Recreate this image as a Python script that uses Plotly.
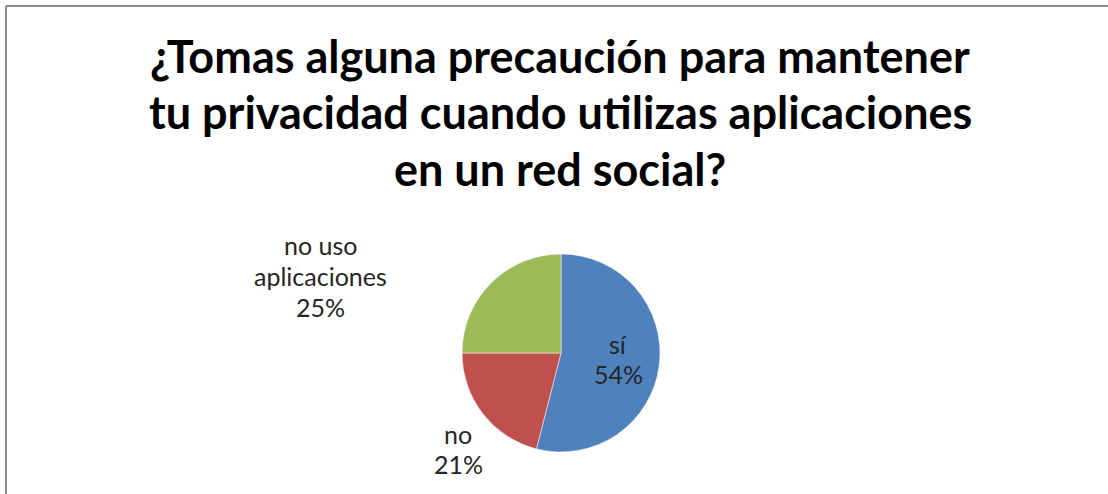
import plotly.graph_objects as go

categories = ["sí", "no", "no uso aplicaciones"]
values = [54, 21, 25]
colors = ["#4F81BD", "#C0504D", "#9BBB59"]
title_lines = [
    "¿Tomas alguna precaución para mantener",
    "tu privacidad cuando utilizas aplicaciones",
    "en un red social?",
]
label_lines = [
    ["sí", "54%"],
    ["no", "21%"],
    ["no uso", "aplicaciones", "25%"],
]

W, H = 1108, 494

def px(x):
    return x / W

def py(y):
    return 1 - y / H

fig = go.Figure()
fig.add_trace(go.Pie(
    labels=categories,
    values=values,
    sort=False,
    direction="clockwise",
    rotation=0,
    marker=dict(colors=colors, line=dict(color="#ffffff", width=0.5)),
    textinfo="none",
    hoverinfo="label+percent",
    showlegend=False,
    domain=dict(x=[px(462), px(660)], y=[py(452), py(254)]),
))

annotations = []
title_y = [56, 112, 169]
for line, yy in zip(title_lines, title_y):
    annotations.append(dict(
        text="<b>" + line + "</b>", x=px(560), y=py(yy), xref="paper", yref="paper",
        showarrow=False, xanchor="center", yanchor="middle",
        font=dict(family="Lato", size=45, color="#000000"),
    ))

label_pos = [
    (618, [344, 374]),
    (458, [434, 464]),
    (320, [245, 276, 307]),
]
for lines, (lx, ys) in zip(label_lines, label_pos):
    for t, yy in zip(lines, ys):
        annotations.append(dict(
            text=t, x=px(lx), y=py(yy), xref="paper", yref="paper",
            showarrow=False, xanchor="center", yanchor="middle",
            font=dict(family="Lato", size=25, color="#262626"),
        ))

border = "#8c8c8c"
fig.update_layout(
    width=W, height=H,
    margin=dict(l=0, r=0, t=0, b=0),
    paper_bgcolor="#ffffff",
    plot_bgcolor="#ffffff",
    annotations=annotations,
    shapes=[
        dict(type="line", xref="paper", yref="paper",
             x0=px(6), y0=py(6), x1=1, y1=py(6),
             line=dict(color=border, width=2), layer="above"),
        dict(type="line", xref="paper", yref="paper",
             x0=px(6), y0=py(6), x1=px(6), y1=0,
             line=dict(color=border, width=2), layer="above"),
    ],
)

fig.write_html(
    "out.html",
    config={"displayModeBar": False},
    post_script=(
        "document.documentElement.style.margin='0';"
        "document.documentElement.style.overflow='hidden';"
        "document.body.style.margin='0';"
        "document.body.style.overflow='hidden';"
    ),
)
